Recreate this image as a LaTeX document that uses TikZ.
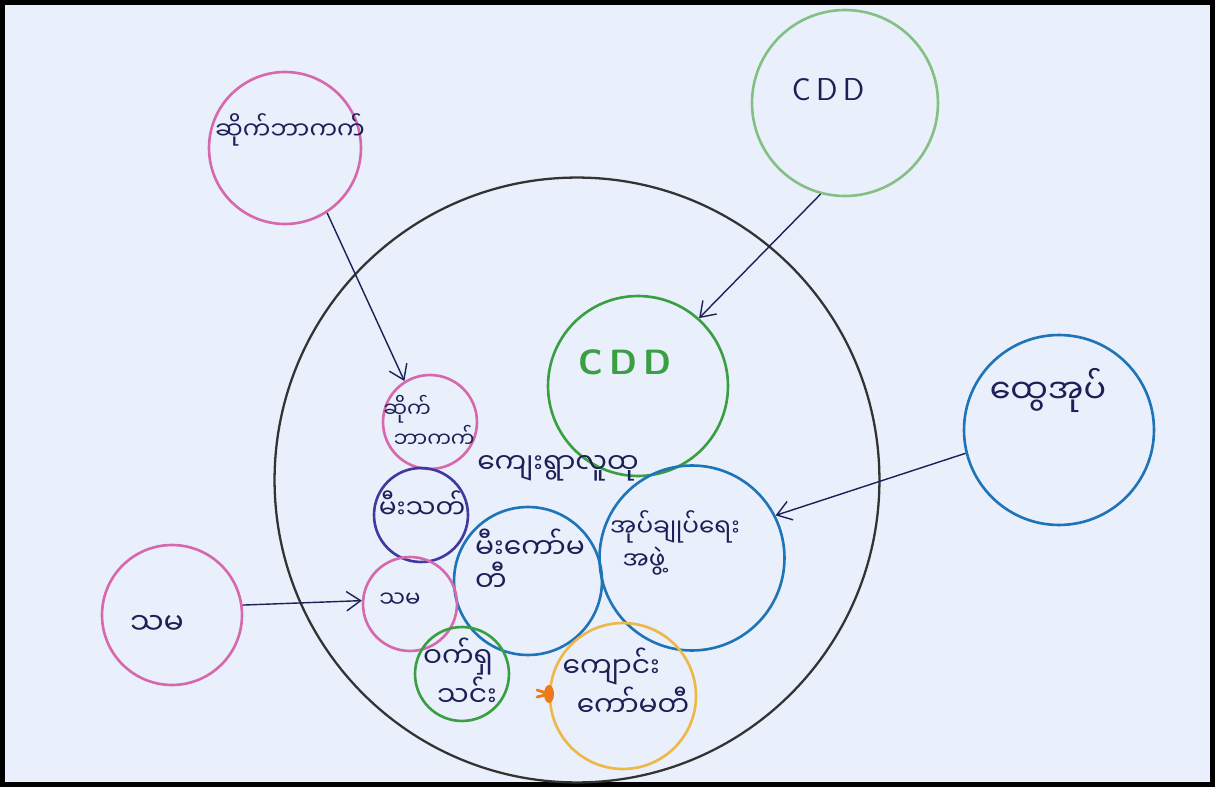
\documentclass[tikz,border=0pt]{standalone}
\usepackage{fontspec}
\newfontfamily\mmfont[Script=Myanmar]{Noto Sans Myanmar UI}
\usetikzlibrary{arrows.meta}

\definecolor{paper}{RGB}{233,240,251}
\definecolor{ink}{RGB}{28,32,86}
\definecolor{pinkline}{RGB}{214,104,172}
\definecolor{paleGreen}{RGB}{132,192,134}
\definecolor{darkGreen}{RGB}{58,158,66}
\definecolor{violetline}{RGB}{66,56,160}
\definecolor{blueline}{RGB}{30,116,182}
\definecolor{orangeline}{RGB}{238,184,70}
\definecolor{orangeblob}{RGB}{236,122,24}

\tikzset{
  ring/.style={circle,draw,line width=1.5pt,inner sep=0pt},
  lbl/.style={font=\mmfont\fontsize{17}{24}\selectfont,text=ink,align=center,inner sep=0pt},
  link/.style={draw=ink,line width=0.8pt,-{Straight Barb[length=8pt,width=11pt]}}
}

\begin{document}
\begin{tikzpicture}[x=0.02cm,y=-0.02cm]

\useasboundingbox (0,0) rectangle (1215,787);
\fill[paper] (0,0) rectangle (1215,787);
\draw[line width=2.8pt,black] (2.5,2.5) rectangle (1212.5,784.5);

% outer circle
\node[ring,draw=black!80,line width=1.3pt,minimum size=12.1cm] (village) at (577,480) {};

% circles outside
\node[ring,draw=pinkline,minimum size=3.04cm] (cyberOut) at (285,148) {};
\node[ring,draw=paleGreen,minimum size=3.72cm] (cddOut) at (845,103) {};
\node[ring,draw=blueline,minimum size=3.8cm] (gad) at (1059,430) {};
\node[ring,draw=pinkline,minimum size=2.8cm] (smOut) at (172,615) {};

% circles inside
\node[ring,draw=darkGreen,minimum size=3.6cm] (cddIn) at (638,386) {};
\node[ring,draw=pinkline,minimum size=1.88cm] (cyberIn) at (430,422) {};
\node[ring,draw=violetline,minimum size=1.88cm] (fireIn) at (421,515) {};
\node[ring,draw=blueline,minimum size=3.7cm] (admin) at (692,558) {};
\node[ring,draw=blueline,minimum size=2.96cm] (fireCom) at (528,581) {};
\node[ring,draw=pinkline,minimum size=1.88cm] (smIn) at (410,604) {};
\node[ring,draw=darkGreen,minimum size=1.88cm] (assoc) at (462,674) {};
\node[ring,draw=orangeline,minimum size=2.92cm] (school) at (623,696) {};

% labels
\node[lbl,font=\mmfont\fontsize{14}{20}\selectfont] (tCyberOut) at (290,130) {ဆိုက်ဘာကက်};
\node[lbl,font=\sffamily\fontsize{18}{22}\selectfont] (tCddOut) at (828,90) {C\,D\,D};
\node[lbl,font=\mmfont\fontsize{19}{24}\selectfont] (tGad) at (1048,390) {ထွေအုပ်};
\node[lbl] (tSmOut) at (157,625) {သမ};
\node[lbl,text=darkGreen,font=\sffamily\bfseries\fontsize{20}{24}\selectfont] (tCddIn) at (625,362) {C\,D\,D};
\node[lbl,align=left,font=\mmfont\fontsize{12}{17}\selectfont] (tCyberIn) at (429,421) {ဆိုက်\\\enspace ဘာကက်};
\node[lbl,font=\mmfont\fontsize{16}{24}\selectfont] (tVillage) at (558,468) {ကျေးရွာလူထု};
\node[lbl,font=\mmfont\fontsize{15}{24}\selectfont] (tFireIn) at (422,505) {မီးသတ်};
\node[lbl,align=left,font=\mmfont\fontsize{16}{19}\selectfont] (tFireCom) at (530,560) {မီးကော်မ\\တီ};
\node[lbl,align=left,font=\mmfont\fontsize{14}{19}\selectfont] (tAdmin) at (675,543) {အုပ်ချုပ်ရေး\\\enspace အဖွဲ့};
\node[lbl,font=\mmfont\fontsize{13}{24}\selectfont] (tSmIn) at (400,600) {သမ};
\node[lbl,align=left,font=\mmfont\fontsize{16}{20}\selectfont] (tAssoc) at (460,672) {ဝက်ရှ\\\enspace သင်း};
\node[lbl,align=left,font=\mmfont\fontsize{16}{21}\selectfont] (tSchool) at (626,682) {ကျောင်း\\\enspace ကော်မတီ};

% arrows
\draw[link] (cyberOut.303) -- (cyberIn.122);
\draw[link] (cddOut.255) -- (cddIn.48);
\draw[link] (gad.194) -- (admin.27);
\draw[link] (smOut.8) -- (smIn.176);

% orange mark
\coordinate (blob) at (549,694);
\fill[orangeblob] (blob) ellipse [x radius=5, y radius=9];
\draw[orangeblob,line width=1.6pt,line cap=round] (blob) -- ++(-12,-4) (blob) -- ++(-12,3);

\end{tikzpicture}
\end{document}
